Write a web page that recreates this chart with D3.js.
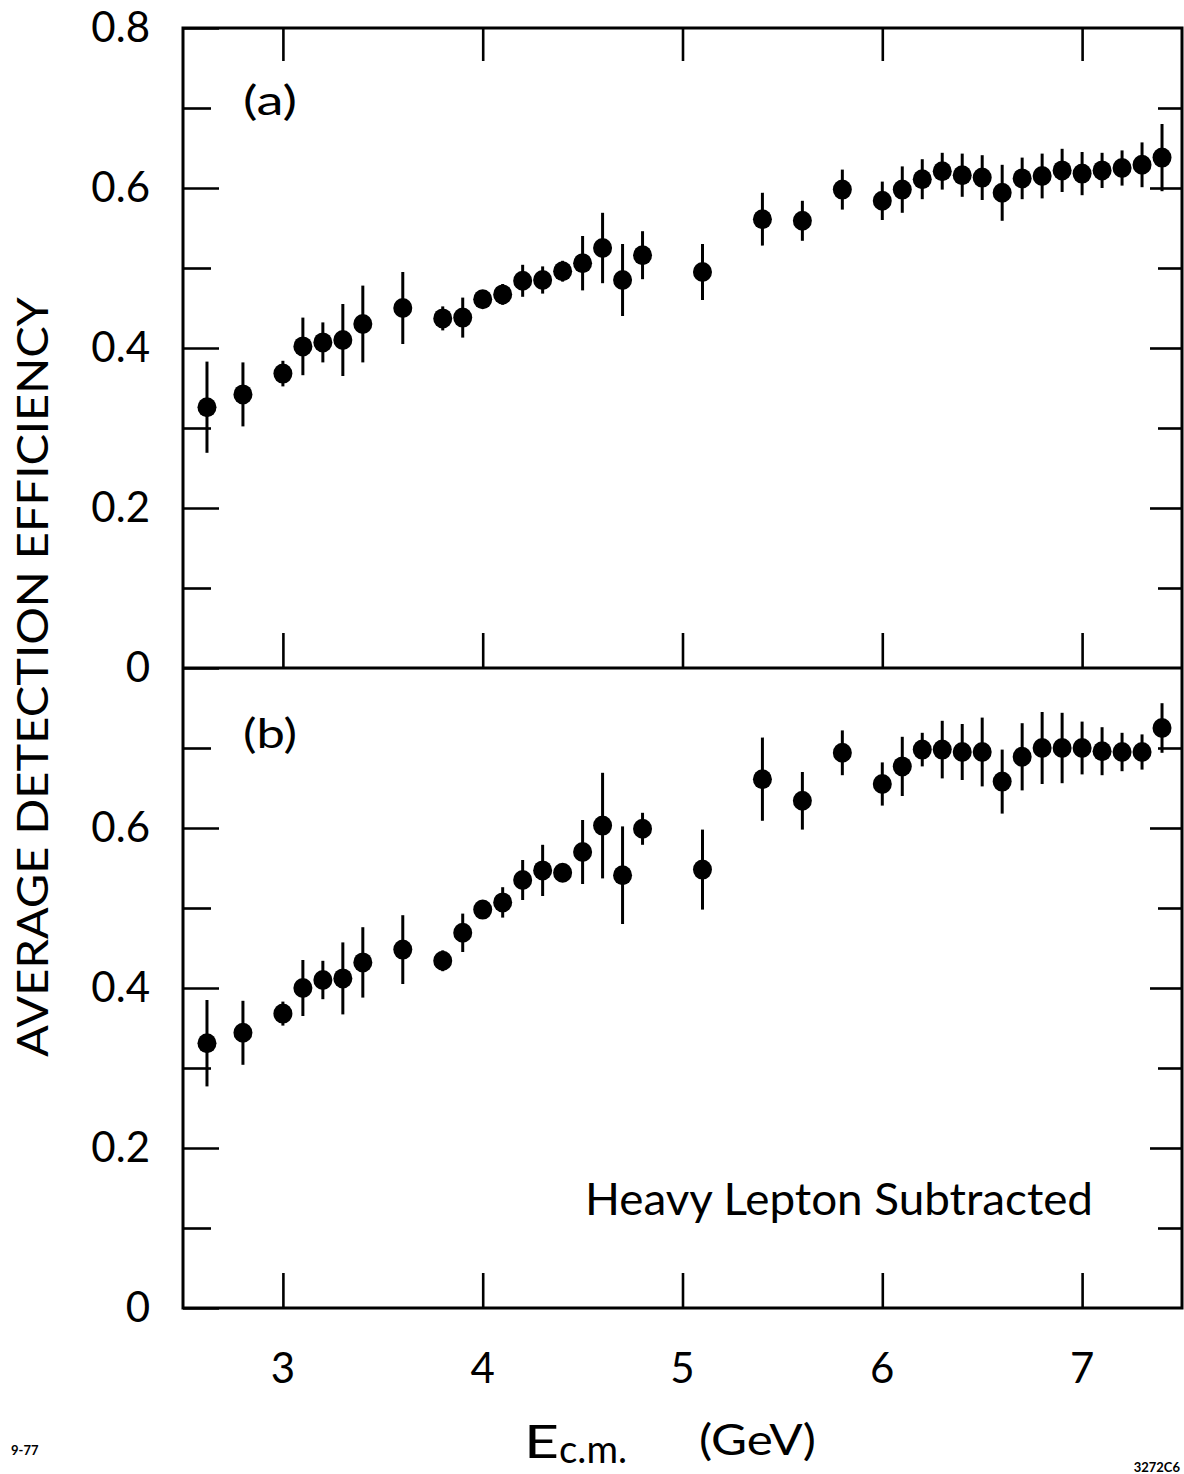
<!DOCTYPE html>
<html>
<head>
<meta charset="utf-8">
<script src="https://cdn.jsdelivr.net/npm/d3@7"></script>
<style>
  body { margin: 0; background: #fff; }
  text { font-family: 'Lato', 'Liberation Sans', sans-serif; font-weight: 400; fill: #000; }
</style>
</head>
<body>
<div id="chart"></div>
<script>
// E_cm values (GeV) shared by both panels
const energy = [2.62, 2.8, 3.0, 3.1, 3.2, 3.3, 3.4, 3.6, 3.8, 3.9, 4.0, 4.1, 4.2, 4.3, 4.4, 4.5, 4.6, 4.7, 4.8,
    5.1, 5.4, 5.6, 5.8, 6.0, 6.1, 6.2, 6.3, 6.4, 6.5, 6.6, 6.7, 6.8, 6.9, 7.0, 7.1, 7.2, 7.3, 7.4];

// panel (a)
const effA = [0.326, 0.342, 0.368, 0.402, 0.407, 0.410, 0.430, 0.450, 0.437, 0.438, 0.461, 0.467, 0.484, 0.485,
    0.496, 0.506, 0.525, 0.485, 0.516, 0.495, 0.561, 0.559, 0.598, 0.584, 0.598, 0.611, 0.621, 0.616, 0.613,
    0.594, 0.612, 0.615, 0.622, 0.618, 0.622, 0.625, 0.629, 0.638];
const errA = [0.057, 0.040, 0.016, 0.036, 0.025, 0.045, 0.048, 0.045, 0.015, 0.025, 0.008, 0.013, 0.020, 0.017,
    0.013, 0.034, 0.044, 0.045, 0.030, 0.035, 0.033, 0.025, 0.025, 0.024, 0.029, 0.025, 0.023, 0.027, 0.028,
    0.035, 0.026, 0.028, 0.027, 0.027, 0.022, 0.022, 0.028, 0.042];

// panel (b), heavy lepton subtracted
const effB = [0.331, 0.344, 0.368, 0.400, 0.410, 0.412, 0.432, 0.448, 0.434, 0.469, 0.498, 0.507, 0.535, 0.547,
    0.544, 0.570, 0.603, 0.541, 0.599, 0.548, 0.661, 0.634, 0.694, 0.655, 0.677, 0.698, 0.698, 0.695, 0.695,
    0.658, 0.689, 0.700, 0.700, 0.700, 0.696, 0.695, 0.695, 0.725];
const errB = [0.054, 0.040, 0.015, 0.035, 0.024, 0.045, 0.044, 0.043, 0.013, 0.024, 0.006, 0.019, 0.025, 0.032,
    0.004, 0.040, 0.066, 0.061, 0.020, 0.050, 0.052, 0.036, 0.028, 0.027, 0.037, 0.021, 0.036, 0.035, 0.043,
    0.040, 0.042, 0.045, 0.044, 0.033, 0.030, 0.024, 0.022, 0.031];

const xTicks = [3, 4, 5, 6, 7];
const yMajorA = [0, 0.2, 0.4, 0.6, 0.8];
const yMajorB = [0, 0.2, 0.4, 0.6];
const yMinor = [0.1, 0.3, 0.5, 0.7];

const width = 1184, height = 1474;
const left = 183, right = 1182;

const svg = d3.select('#chart').append('svg')
    .attr('width', width)
    .attr('height', height);

const x = d3.scaleLinear().domain([2.5, 7.5]).range([left, right]);
const yA = d3.scaleLinear().domain([0, 0.8]).range([668, 28]);
const yB = d3.scaleLinear().domain([0, 0.8]).range([1308, 668]);

const fmt = d => d === 0 ? '0' : d3.format('.1f')(d);

function styleAxis(g) {
    g.select('.domain').remove();
    g.selectAll('line').attr('stroke', '#000').attr('stroke-width', 2.6);
    g.selectAll('text').attr('font-size', 42).attr('fill', '#000')
        .style('font-family', "'Lato', 'Liberation Sans', sans-serif").style('font-weight', 400);
}

function panel(y, vals, errs, majors, topTicks) {
    // left axis, ticks inward
    svg.append('g').attr('transform', `translate(${left},0)`)
        .call(d3.axisLeft(y).tickValues(majors).tickSize(-36).tickPadding(33).tickFormat(fmt))
        .call(styleAxis);
    svg.append('g').attr('transform', `translate(${left},0)`)
        .call(d3.axisLeft(y).tickValues(yMinor).tickSize(-28).tickFormat(''))
        .call(styleAxis);
    // right axis, ticks inward
    svg.append('g').attr('transform', `translate(${right},0)`)
        .call(d3.axisRight(y).tickValues(majors.filter(d => d > 0 && d < 0.8)).tickSize(-32).tickFormat(''))
        .call(styleAxis);
    svg.append('g').attr('transform', `translate(${right},0)`)
        .call(d3.axisRight(y).tickValues(yMinor).tickSize(-24).tickFormat(''))
        .call(styleAxis);
    // x ticks at bottom of the panel pointing up
    svg.append('g').attr('transform', `translate(0,${y(0)})`)
        .call(d3.axisBottom(x).tickValues(xTicks).tickSize(-35).tickFormat(''))
        .call(styleAxis);
    if (topTicks) {
        svg.append('g').attr('transform', `translate(0,${y(0.8)})`)
            .call(d3.axisTop(x).tickValues(xTicks).tickSize(-33).tickFormat(''))
            .call(styleAxis);
    }

    const pts = energy.map((e, i) => ({ e, v: vals[i], err: errs[i] }));
    svg.append('g').selectAll('line')
        .data(pts).join('line')
        .attr('x1', d => x(d.e)).attr('x2', d => x(d.e))
        .attr('y1', d => y(d.v - d.err)).attr('y2', d => y(d.v + d.err))
        .attr('stroke', '#000').attr('stroke-width', 3);
    svg.append('g').selectAll('ellipse')
        .data(pts).join('ellipse')
        .attr('cx', d => x(d.e)).attr('cy', d => y(d.v))
        .attr('rx', 9.5).attr('ry', 10)
        .attr('fill', '#000');
}

panel(yA, effA, errA, yMajorA, true);
panel(yB, effB, errB, yMajorB, false);

// frame
svg.append('rect')
    .attr('x', left).attr('y', yA(0.8))
    .attr('width', right - left).attr('height', yB(0) - yA(0.8))
    .attr('fill', 'none').attr('stroke', '#000').attr('stroke-width', 3);
svg.append('line')
    .attr('x1', left).attr('x2', right).attr('y1', yA(0)).attr('y2', yA(0))
    .attr('stroke', '#000').attr('stroke-width', 3);

// x tick labels
svg.append('g').selectAll('text')
    .data(xTicks).join('text')
    .attr('x', d => x(d)).attr('y', 1383)
    .attr('text-anchor', 'middle').attr('font-size', 42)
    .text(d => d);

// panel letters
svg.append('text').attr('x', 243).attr('y', 115).attr('font-size', 40)
    .attr('textLength', 54).attr('lengthAdjust', 'spacingAndGlyphs').text('(a)');
svg.append('text').attr('x', 243).attr('y', 748).attr('font-size', 40)
    .attr('textLength', 54).attr('lengthAdjust', 'spacingAndGlyphs').text('(b)');

svg.append('text').attr('x', 585).attr('y', 1215).attr('font-size', 45)
    .attr('textLength', 508).attr('lengthAdjust', 'spacingAndGlyphs')
    .text('Heavy Lepton Subtracted');

// y title
svg.append('text')
    .attr('transform', 'translate(48,677) rotate(-90)')
    .attr('text-anchor', 'middle').attr('font-size', 43)
    .attr('textLength', 760).attr('lengthAdjust', 'spacingAndGlyphs')
    .text('AVERAGE  DETECTION  EFFICIENCY');

// x title
svg.append('text').attr('x', 524).attr('y', 1458).attr('font-size', 46)
    .attr('textLength', 35).attr('lengthAdjust', 'spacingAndGlyphs').text('E');
svg.append('text').attr('x', 559).attr('y', 1463).attr('font-size', 38)
    .attr('textLength', 68).attr('lengthAdjust', 'spacingAndGlyphs').text('c.m.');
svg.append('text').attr('x', 699).attr('y', 1455).attr('font-size', 43)
    .attr('textLength', 117).attr('lengthAdjust', 'spacingAndGlyphs').text('(GeV)');

// figure codes
svg.append('text').attr('x', 11).attr('y', 1455).attr('font-size', 13)
    .style('font-weight', 700).text('9-77');
svg.append('text').attr('x', 1180).attr('y', 1472).attr('font-size', 13)
    .attr('text-anchor', 'end').style('font-weight', 700).text('3272C6');
</script>
</body>
</html>
